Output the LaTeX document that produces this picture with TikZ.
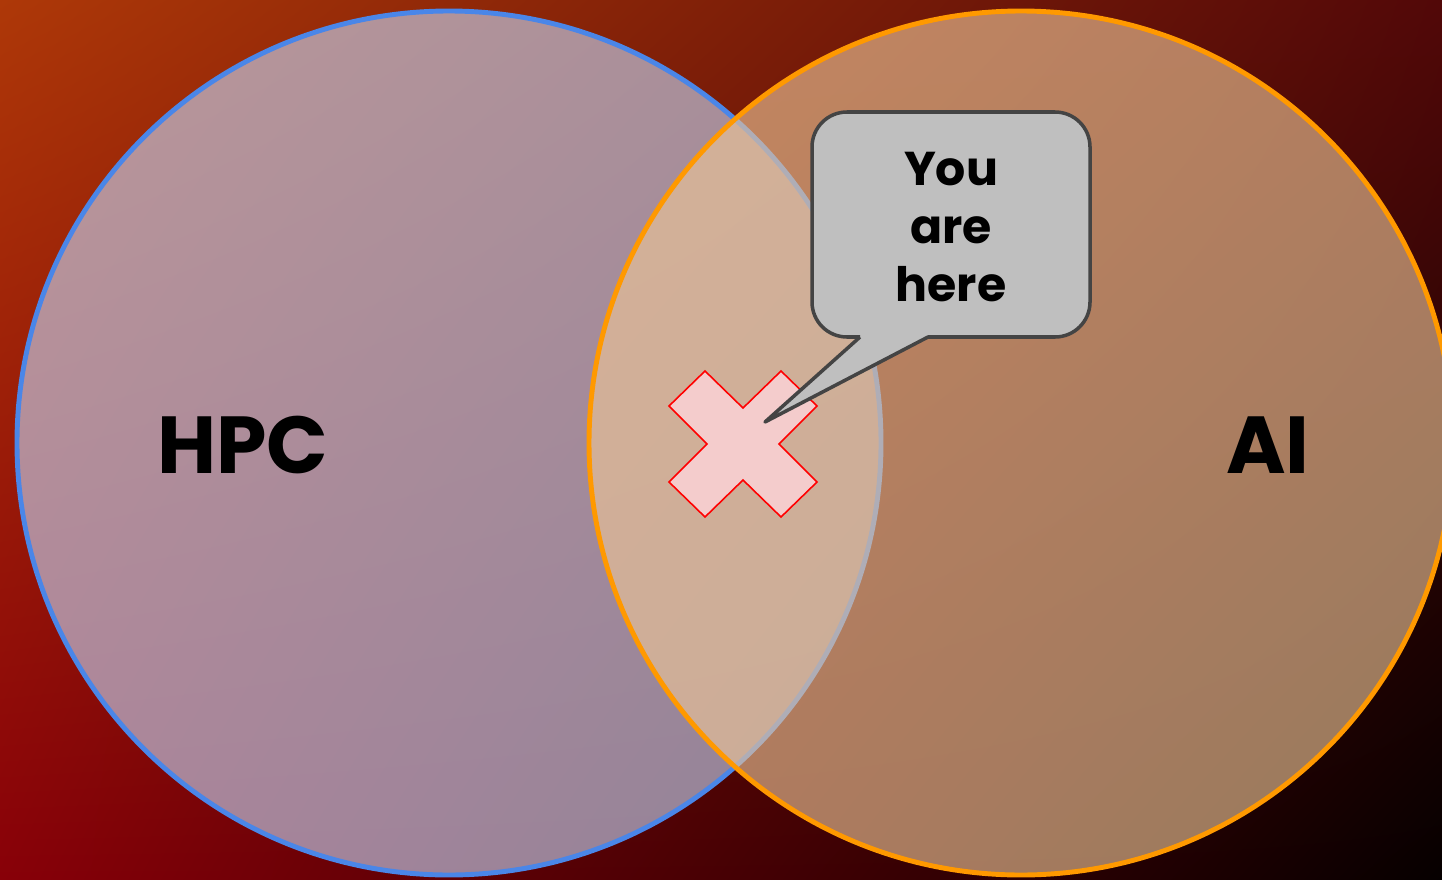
\documentclass[tikz,border=0pt]{standalone}
\usepackage{fontspec}
\setmainfont{Poppins}
\usepackage{xcolor}
\usepackage{tikz}
\usetikzlibrary{shadings}

\definecolor{bgtopleft}{HTML}{AE3808}
\definecolor{bgtopright}{HTML}{520808}
\definecolor{bgbotleft}{HTML}{880008}
\definecolor{bgbotright}{HTML}{060000}
\definecolor{hpcedge}{HTML}{4A86E8}
\definecolor{hpcfill}{HTML}{C5D5F5}
\definecolor{aiedge}{HTML}{FF9900}
\definecolor{aifill}{HTML}{EEC698}
\definecolor{bubblefill}{HTML}{BFBFBF}
\definecolor{bubbleedge}{HTML}{444444}
\definecolor{crossfill}{HTML}{F4CCCC}

\begin{document}
\begin{tikzpicture}[x=0.02cm, y=-0.02cm,
  field/.style={line width=2.8pt, fill opacity=0.62},
  fieldname/.style={font=\fontsize{46}{46}\selectfont\bfseries, text=black, inner sep=0pt},
  bubble/.style={fill=bubblefill, draw=bubbleedge, line width=2pt, line join=round},
  bubbletext/.style={font=\fontsize{27}{33}\selectfont\bfseries, align=center, inner sep=0pt}]
  \useasboundingbox (0,0) rectangle (1442,879);
  % background
  \shade[upper left=bgtopleft, upper right=bgtopright, lower left=bgbotleft, lower right=bgbotright] (0,0) rectangle (1442,879);
  % the two fields
  \draw[field, draw=hpcedge, fill=hpcfill] (449,443) circle [radius=432];
  \draw[field, draw=aiedge, fill=aifill] (1021,443) circle [radius=432];
  \node[fieldname] (hpc) at (243,445) {HPC};
  \node[fieldname] (ai) at (1268,445) {AI};
  % the marker
  \coordinate (spot) at (743,444);
  \begin{scope}[shift={(spot)}]
    \draw[fill=crossfill, draw=red, line width=0.9pt] (-38,-73) -- (0,-36) -- (38,-73) -- (74,-38) -- (36,0) -- (74,38) -- (38,73) -- (0,36) -- (-38,73) -- (-74,38) -- (-36,0) -- (-74,-38) -- cycle;
  \end{scope}
  % speech bubble
  \coordinate (tip) at (765,422);
  \draw[bubble] (860,337) -- (tip) -- (928,337) [rounded corners=0.7cm] -- (1090,337) -- (1090,112) -- (812,112) -- (812,337) [sharp corners] -- (860,337);
  \node[bubbletext] (here) at (951,227) {You\\are\\here};
\end{tikzpicture}
\end{document}
